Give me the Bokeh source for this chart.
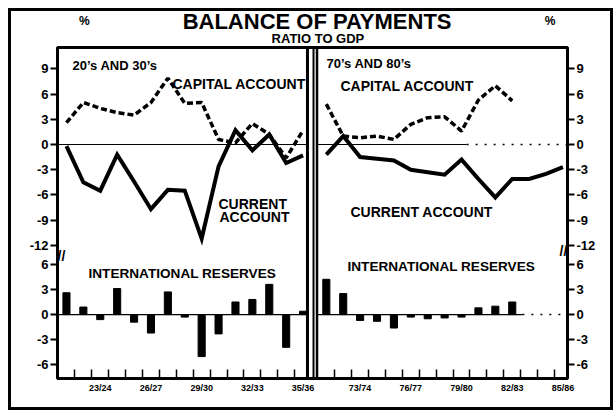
import numpy as np
from bokeh.plotting import figure
from bokeh.layouts import column
from bokeh.models import Range1d, FixedTicker, LinearAxis, Label, Span, Div
from bokeh.embed import file_html
from bokeh.resources import INLINE

# ---------------- data (percent of GDP) ----------------
years_a = ["21/22", "22/23", "23/24", "24/25", "25/26", "26/27", "27/28", "28/29",
           "29/30", "30/31", "31/32", "32/33", "33/34", "34/35", "35/36"]
years_b = ["71/72", "72/73", "73/74", "74/75", "75/76", "76/77", "77/78", "78/79",
           "79/80", "80/81", "81/82", "82/83", "83/84", "84/85", "85/86"]
capital_a = [2.6, 5.0, 4.3, 3.8, 3.5, 5.0, 7.9, 4.9, 5.0, 0.6, 0.2, 2.5, 1.2, -1.6, 1.7]
current_a = [-0.2, -4.5, -5.5, -1.2, -4.4, -7.7, -5.4, -5.5, -11.2, -2.6, 1.7, -0.7, 1.2, -2.2, -1.3]
reserves_a = [2.6, 0.9, -0.6, 3.1, -0.9, -2.2, 2.7, -0.3, -5.0, -2.3, 1.5, 1.8, 3.6, -3.9, 0.4]
capital_b = [4.8, 1.0, 0.8, 1.0, 0.6, 2.4, 3.2, 3.3, 1.6, 5.3, 7.0, 5.2, None, None, None]
current_b = [-1.2, 1.0, -1.5, -1.7, -1.9, -3.0, -3.3, -3.6, -1.8, -4.1, -6.3, -4.1, -4.1, -3.5, -2.7]
reserves_b = [4.2, 2.5, -0.7, -0.8, -1.6, -0.3, -0.5, -0.4, -0.3, 0.8, 1.0, 1.5, None, None, None]
label_years_a = ["23/24", "26/27", "29/30", "32/33", "35/36"]
label_years_b = ["73/74", "76/77", "79/80", "82/83", "85/86"]
top_ticks = [9, 6, 3, 0, -3, -6, -9, -12]
res_ticks = [6, 3, 0, -3, -6]

# ---------------- layout constants ----------------
W = 611
HH = 46                      # header height
H = 408 - HH                 # main figure height
MB_L, MB_R, MB_T, MB_B = 57, 44, 1, 30
SHIFT_B = 15.375             # horizontal offset of the 70s/80s panel (in years)
OFF = 20.25                  # vertical offset of the reserves section
x_start, x_end = -0.53, 29.645
y_start, y_end = -27.86, 11.55
X_PER = (W - MB_L - MB_R) / (x_end - x_start)
Y_PER = (H - MB_T - MB_B) / (y_end - y_start)
FONT = "Liberation Sans"


def ax(px):  # page pixel -> data x (text annotations only)
    return x_start + (px - MB_L) / X_PER


def ay(py):  # page pixel -> data y (text annotations only)
    return y_end - (py - HH - MB_T) / Y_PER


def nan(v):
    return np.array([np.nan if a is None else a for a in v], dtype=float)


xa = np.arange(len(years_a), dtype=float)
xb = np.arange(len(years_b), dtype=float) + SHIFT_B

# ---------------- header with titles ----------------
hdr = figure(width=W, height=HH, x_range=Range1d(0, W), y_range=Range1d(HH, 0),
             output_backend="svg", toolbar_location=None, x_axis_location=None, y_axis_location=None,
             min_border=0, min_border_left=0, min_border_right=0, min_border_top=0, min_border_bottom=0)
hdr.xgrid.visible = False
hdr.ygrid.visible = False
hdr.outline_line_color = None
hdr.border_fill_color = "white"


def hlab(text, px, py, size, align):
    hdr.add_layout(Label(x=px, y=py, text=text, text_font=FONT, text_font_style="bold",
                         text_font_size=size, text_color="black", text_align=align,
                         text_baseline="alphabetic"))


hlab("BALANCE OF PAYMENTS", 311, 21, "22px", "center")
hlab("RATIO TO GDP", 312, 38, "13px", "center")
hlab("%", 32, 20, "12px", "center")
hlab("%", 590, 20, "12px", "center")

# ---------------- main chart ----------------
p = figure(width=W, height=H, x_range=Range1d(x_start, x_end), y_range=Range1d(y_start, y_end),
           output_backend="svg", toolbar_location=None,
           min_border_left=MB_L, min_border_right=MB_R, min_border_top=MB_T, min_border_bottom=MB_B)
p.xgrid.visible = False
p.ygrid.visible = False
p.background_fill_color = "white"
p.border_fill_color = "white"
p.outline_line_color = "black"
p.outline_line_width = 3

yt = top_ticks + [v - OFF for v in res_ticks]
yover = {t: str(t) for t in top_ticks}
yover.update({v - OFF: str(v) for v in res_ticks})


def style_y(a):
    a.ticker = FixedTicker(ticks=yt)
    a.major_label_overrides = yover
    a.major_tick_out = 7
    a.major_tick_in = 0
    a.minor_tick_out = 0
    a.minor_tick_in = 0
    a.major_tick_line_width = 2
    a.axis_line_width = 3
    a.major_label_standoff = 2
    a.major_label_text_font = FONT
    a.major_label_text_font_style = "bold"
    a.major_label_text_font_size = "13px"
    a.major_label_text_color = "black"


style_y(p.yaxis[0])
yr = LinearAxis()
style_y(yr)
p.add_layout(yr, "right")

xpos = [xa[years_a.index(y)] for y in label_years_a] + [xb[years_b.index(y)] for y in label_years_b]
xover = {xa[years_a.index(y)]: y for y in label_years_a}
xover.update({xb[years_b.index(y)]: y for y in label_years_b})
xminor = [v + 0.5 for v in xa[:-1]] + [v + 0.5 for v in xb[:-1]]
xaxis = p.xaxis[0]
xaxis.ticker = FixedTicker(ticks=xpos, minor_ticks=xminor)
xaxis.major_label_overrides = xover
xaxis.major_tick_in = 0
xaxis.major_tick_out = 0
xaxis.minor_tick_in = 9
xaxis.minor_tick_out = 0
xaxis.minor_tick_line_width = 1.5
xaxis.axis_line_width = 3
xaxis.major_label_standoff = 4
xaxis.major_label_text_font = FONT
xaxis.major_label_text_font_style = "bold"
xaxis.major_label_text_font_size = "9px"
xaxis.major_label_text_color = "black"

# panel dividers
LEFT_EDGE_R = 14.26
RIGHT_EDGE_L = 14.825
p.add_layout(Span(location=LEFT_EDGE_R, dimension="height", line_color="black", line_width=3))
p.add_layout(Span(location=14.618, dimension="height", line_color="black", line_width=2))
p.add_layout(Span(location=RIGHT_EDGE_L, dimension="height", line_color="black", line_width=2.5))

# zero lines
p.segment(x0=[x_start, x_start], x1=[LEFT_EDGE_R, LEFT_EDGE_R], y0=[0, -OFF], y1=[0, -OFF],
          line_color="black", line_width=1.2)
p.segment(x0=[RIGHT_EDGE_L, RIGHT_EDGE_L], x1=[SHIFT_B + 8.3, SHIFT_B + 11.6], y0=[0, -OFF], y1=[0, -OFF],
          line_color="black", line_width=1.2)
p.segment(x0=[SHIFT_B + 8.3, SHIFT_B + 11.6], x1=[x_end, x_end], y0=[0, -OFF], y1=[0, -OFF],
          line_color="black", line_width=1.5, line_dash="2 7")

# reserves bars
for xs, vals in ((xa, nan(reserves_a)), (xb, nan(reserves_b))):
    ok = ~np.isnan(vals)
    p.vbar(x=xs[ok], width=0.42, bottom=-OFF, top=vals[ok] - OFF, fill_color="black", line_color="black")

# account lines
p.line(xa, nan(capital_a), line_color="black", line_width=3.5, line_dash="6 3")
p.line(xb, nan(capital_b), line_color="black", line_width=3.5, line_dash="6 3")
p.line(xa, nan(current_a), line_color="black", line_width=4, line_join="miter")
p.line(xb, nan(current_b), line_color="black", line_width=4, line_join="miter")


def lab(text, px, py, size, align="left", baseline="alphabetic"):
    p.add_layout(Label(x=ax(px), y=ay(py), text=text, text_font=FONT, text_font_style="bold",
                       text_font_size=size, text_color="black", text_align=align, text_baseline=baseline))


lab("20’s AND 30’s", 72, 65, "13px")
lab("70’s AND 80’s", 326, 63, "13px")
lab("CAPITAL ACCOUNT", 172, 83, "14px")
lab("CAPITAL ACCOUNT", 340, 85, "14px")
lab("CURRENT", 218, 203, "14px")
lab("ACCOUNT", 219, 216, "14px")
lab("CURRENT ACCOUNT", 350, 211, "14px")
lab("INTERNATIONAL RESERVES", 88, 273, "13.6px")
lab("INTERNATIONAL RESERVES", 347, 266, "13.6px")
lab("//", 61, 255, "14px", "center", "middle")
lab("//", 563, 250, "14px", "center", "middle")

# outer frame drawn as an overlay box
frame_div = Div(text="", width=605, height=402,
                styles={"position": "absolute", "left": "3px", "top": "3px",
                        "border": "3px solid black", "box-sizing": "border-box",
                        "pointer-events": "none", "z-index": "10", "background": "transparent"})

layout = column(hdr, p, frame_div, spacing=0, styles={"position": "relative"})

open("out.html", "w").write(file_html(layout, INLINE))
